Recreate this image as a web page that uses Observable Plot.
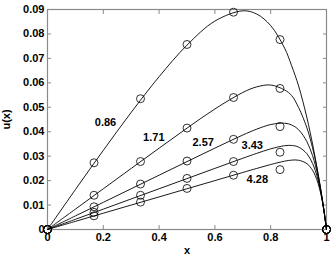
<!DOCTYPE html>
<html>
<head>
<meta charset="utf-8">
<script src="https://cdn.jsdelivr.net/npm/d3@7"></script>
<script src="https://cdn.jsdelivr.net/npm/@observablehq/plot@0.6"></script>
<style>
  html, body { margin: 0; padding: 0; background: #fff; }
  #chart svg { display: block; }
</style>
</head>
<body>
<div id="chart"></div>
<script>
// Series labels
const seriesLabels = ["0.86", "1.71", "2.57", "3.43", "4.28"];

// Exact curves (sampled)
const curveX = [0, 0.1, 0.2, 0.3, 0.4, 0.5, 0.6, 0.7, 0.75, 0.8, 0.85, 0.875, 0.9, 0.93, 0.95, 0.96, 0.97, 0.98, 0.99, 1];
const curve086 = [0, 0.01633, 0.03237, 0.04791, 0.06252, 0.07543, 0.08526, 0.08946, 0.08813, 0.08342, 0.07415, 0.0670, 0.05872, 0.04564, 0.03497, 0.02898, 0.02253, 0.01556, 0.00807, 0];
const curve171 = [0, 0.00833, 0.01666, 0.02498, 0.03327, 0.04146, 0.04931, 0.05606, 0.05835, 0.05911, 0.05706, 0.0548, 0.04990, 0.04152, 0.03343, 0.02844, 0.02269, 0.01611, 0.00859, 0];
const curve257 = [0, 0.00556, 0.01111, 0.01667, 0.02222, 0.02777, 0.03329, 0.03864, 0.04105, 0.04293, 0.04349, 0.04276, 0.04082, 0.03591, 0.03019, 0.02629, 0.02151, 0.01568, 0.00860, 0];
const curve343 = [0, 0.00417, 0.00833, 0.0125, 0.01667, 0.02083, 0.02500, 0.02914, 0.03115, 0.03299, 0.03428, 0.03438, 0.03372, 0.03098, 0.02703, 0.02405, 0.02014, 0.01505, 0.00847, 0];
const curve428 = [0, 0.00333, 0.00667, 0.01, 0.01333, 0.01667, 0.02, 0.02333, 0.02498, 0.02658, 0.02796, 0.02838, 0.02834, 0.02692, 0.02423, 0.02196, 0.01878, 0.01437, 0.00831, 0];

// Numerical solution points (circles)
const pointX = [0, 1/6, 1/3, 1/2, 2/3, 5/6, 1];
const pts086 = [0, 0.0273, 0.0535, 0.0757, 0.0889, 0.0777, 0];
const pts171 = [0, 0.0140, 0.0278, 0.0415, 0.0540, 0.0577, 0];
const pts257 = [0, 0.0093, 0.0186, 0.0280, 0.0369, 0.0421, 0];
const pts343 = [0, 0.0070, 0.0140, 0.0209, 0.0278, 0.0316, 0];
const pts428 = [0, 0.0056, 0.0112, 0.0168, 0.0222, 0.0245, 0];

// Label positions (data coords)
const labelX = [0.208, 0.381, 0.558, 0.734, 0.752];
const labelY = [0.0439, 0.0378, 0.0355, 0.0344, 0.0203];

// Ticks
const xTicks = [0, 0.2, 0.4, 0.6, 0.8, 1];
const yTicks = [0, 0.01, 0.02, 0.03, 0.04, 0.05, 0.06, 0.07, 0.08, 0.09];
const xTickLabels = ["0", "0.2", "0.4", "0.6", "0.8", "1"];
const yTickLabels = ["0", "0.01", "0.02", "0.03", "0.04", "0.05", "0.06", "0.07", "0.08", "0.09"];

const curvesY = [curve086, curve171, curve257, curve343, curve428];
const ptsY = [pts086, pts171, pts257, pts343, pts428];

const curveData = curvesY.flatMap((ys, i) => curveX.map((x, j) => ({x, y: ys[j], s: seriesLabels[i]})));
const pointData = ptsY.flatMap((ys, i) => pointX.map((x, j) => ({x, y: ys[j], s: seriesLabels[i]})));
const labelData = seriesLabels.map((t, i) => ({x: labelX[i], y: labelY[i], t}));

const axisGray = "#8a8a8a";
const font = "'Liberation Sans', Arial, Helvetica, sans-serif";

const chart = Plot.plot({
  width: 335,
  height: 258,
  marginLeft: 47,
  marginRight: 9,
  marginTop: 9,
  marginBottom: 29,
  style: {fontFamily: font, fontSize: "11px", fontWeight: "bold", color: "#000", background: "#fff"},
  x: {domain: [0, 1]},
  y: {domain: [0, 0.09]},
  marks: [
    Plot.frame({stroke: axisGray, strokeWidth: 1.2}),
    // inward ticks, bottom & top
    Plot.axisX(xTicks, {anchor: "bottom", tickSize: -4, text: null, stroke: axisGray, label: null}),
    Plot.axisX(xTicks, {anchor: "top", tickSize: -4, text: null, stroke: axisGray, label: null}),
    Plot.axisY(yTicks, {anchor: "left", tickSize: -4, text: null, stroke: axisGray, label: null}),
    Plot.axisY(yTicks, {anchor: "right", tickSize: -4, text: null, stroke: axisGray, label: null}),
    // tick labels
    Plot.axisX(xTicks, {anchor: "bottom", tickSize: 0, tickPadding: 4, tickFormat: (d, i) => xTickLabels[i],
      fill: "#000", fontWeight: "bold", label: "x", labelAnchor: "center", labelOffset: 24, labelArrow: "none"}),
    Plot.axisY(yTicks, {anchor: "left", tickSize: 0, tickPadding: 3, tickFormat: (d, i) => yTickLabels[i],
      fill: "#000", fontWeight: "bold", label: "u(x)", labelAnchor: "center", labelOffset: 45, labelArrow: "none"}),
    Plot.line(curveData, {x: "x", y: "y", z: "s", curve: "catmull-rom", stroke: "#000", strokeWidth: 0.9}),
    Plot.dot(pointData, {x: "x", y: "y", r: 4, stroke: "#000", strokeWidth: 0.8, fill: "none"}),
    Plot.text(labelData, {x: "x", y: "y", text: "t", fontWeight: "bold", fontSize: 11, fill: "#000"})
  ]
});
document.getElementById("chart").appendChild(chart);
</script>
</body>
</html>
